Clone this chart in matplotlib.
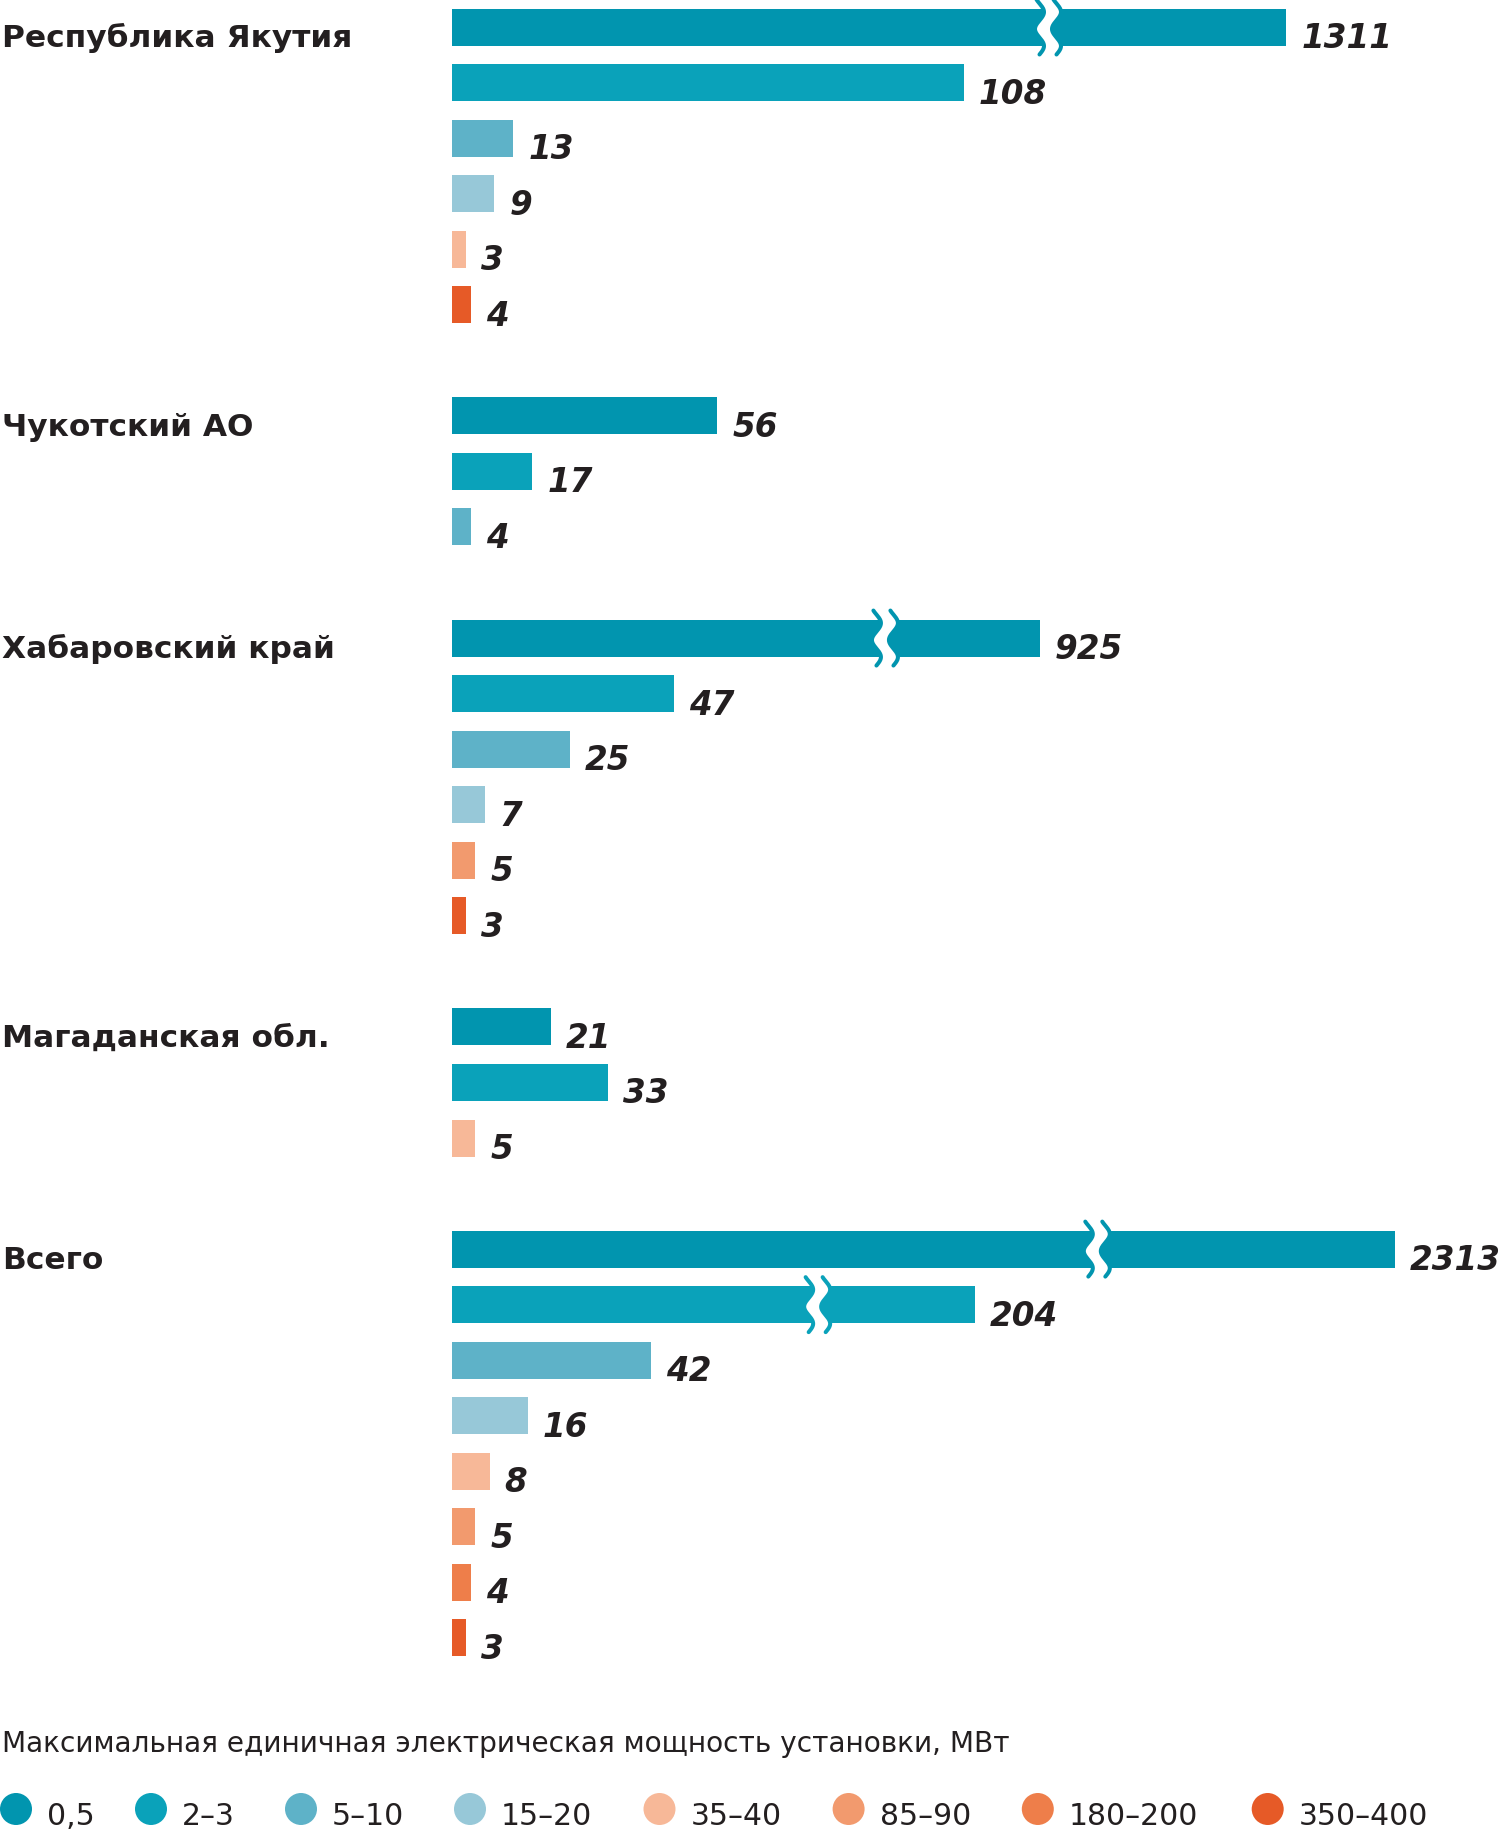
import matplotlib
matplotlib.use("Agg")
import matplotlib.pyplot as plt
import numpy as np
from matplotlib.patches import Ellipse

plt.rcParams['font.family'] = ['DejaVu Sans']

# ---------------- data ----------------
regions = ["Республика Якутия", "Чукотский АО", "Хабаровский край",
           "Магаданская обл.", "Всего"]

class_labels = ["0,5", "2–3", "5–10", "15–20", "35–40", "85–90", "180–200", "350–400"]
class_colors = ["#0195AF", "#0AA2BA", "#5EB2C8", "#97C8D8",
                "#F7B898", "#F29A6E", "#EE7E4A", "#E65A27"]

yakutia_classes = [0, 1, 2, 3, 4, 7]
yakutia_values = [1311, 108, 13, 9, 3, 4]
chukotka_classes = [0, 1, 2]
chukotka_values = [56, 17, 4]
khabarovsk_classes = [0, 1, 2, 3, 5, 7]
khabarovsk_values = [925, 47, 25, 7, 5, 3]
magadan_classes = [0, 1, 4]
magadan_values = [21, 33, 5]
total_classes = [0, 1, 2, 3, 4, 5, 6, 7]
total_values = [2313, 204, 42, 16, 8, 5, 4, 3]

group_classes = [yakutia_classes, chukotka_classes, khabarovsk_classes,
                 magadan_classes, total_classes]
group_values = [yakutia_values, chukotka_values, khabarovsk_values,
                magadan_values, total_values]

# bars drawn with a scale break: value -> drawn length, break position (axis units)
broken_drawn = {1311: 176.1, 925: 124.1, 2313: 199.0, 204: 110.3}
broken_at = {1311: 125.8, 925: 91.4, 2313: 136.1, 204: 77.1}

legend_title = "Максимальная единичная электрическая мощность установки, МВт"

# ---------------- layout ----------------
W, H = 1500, 1831
PX_PER_UNIT = 4.74
X0_PX = 451.7
Y0_PX = 28.0
PITCH = 55.55
BAR_H = 37.0 / PITCH

fig = plt.figure(figsize=(W / 100, H / 100), dpi=100)
ax = fig.add_axes([0, 0, 1, 1])
ax.set_xlim(-X0_PX / PX_PER_UNIT, (W - X0_PX) / PX_PER_UNIT)
ax.set_ylim((H - Y0_PX) / PITCH, -Y0_PX / PITCH)
ax.axis('off')

text_dark = "#231F20"


def draw_break(xc, yc, color):
    ext = 9.0 / PITCH
    yy = np.linspace(yc - BAR_H / 2 - ext, yc + BAR_H / 2 + ext, 200)
    p = (yy - yc) * PITCH
    dx = (4.5 / PX_PER_UNIT) * np.cos(2 * np.pi * (p + 15) / 34.0)
    gap = 17.0 / PX_PER_UNIT
    left = xc - gap / 2 + dx
    right = xc + gap / 2 + dx
    ax.fill_betweenx(yy, left, right, color='white', zorder=3, lw=0)
    for xs in (left, right):
        ax.plot(xs, yy, color=color, lw=2.9, solid_capstyle='round', zorder=4)


slot = 0
for gi, (name, cls, vals) in enumerate(zip(regions, group_classes, group_values)):
    ax.text(2.0 / PX_PER_UNIT - X0_PX / PX_PER_UNIT, slot + 19.0 / PITCH, name,
            fontsize=22.5, fontweight='bold', color=text_dark, va='baseline', ha='left')
    for c, v in zip(cls, vals):
        length = broken_drawn.get(v, v)
        ax.barh(slot, length, height=BAR_H, left=0, color=class_colors[c], lw=0, zorder=2)
        if v in broken_drawn:
            draw_break(broken_at[v], slot, class_colors[c])
        ax.text(length + 15.0 / PX_PER_UNIT, slot + 20.0 / PITCH, f"{v}",
                fontsize=23.5, fontweight='bold', fontstyle='italic', color=text_dark,
                va='baseline', ha='left')
        slot += 1
    slot += 1

# ---------------- legend ----------------
fig.text(2 / W, 1 - 1752 / H, legend_title, fontsize=20.2, color=text_dark,
         va='baseline', ha='left')
circle_x = [16, 151, 301, 470, 659.5, 848.6, 1037.8, 1267.7]
for cx, lab, col in zip(circle_x, class_labels, class_colors):
    e = Ellipse((cx / W, 1 - 1810 / H), 32 / W, 32 / H, transform=fig.transFigure,
                facecolor=col, edgecolor='none')
    fig.patches.append(e)
    fig.text((cx + 31) / W, 1 - 1825 / H, lab, fontsize=21.5, color=text_dark,
             va='baseline', ha='left')

fig.savefig("out.png", dpi=100)
